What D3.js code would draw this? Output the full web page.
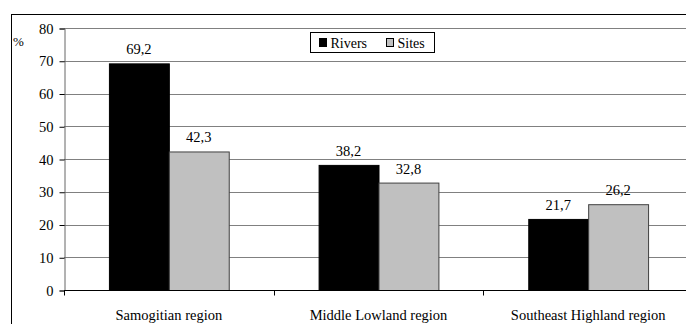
<!DOCTYPE html>
<html>
<head>
<meta charset="utf-8">
<script src="https://cdn.jsdelivr.net/npm/d3@7"></script>
<style>
  html, body { margin: 0; padding: 0; background: #fff; }
  svg { display: block; }
  svg text { font-family: "Liberation Serif", "Times New Roman", Tinos, serif !important; }
</style>
</head>
<body>
<svg id="fig" width="686" height="324"></svg>
<script>
// Share of rivers and sites per region (%)
const regions = ["Samogitian region", "Middle Lowland region", "Southeast Highland region"];
const seriesNames = ["Rivers", "Sites"];
const rivers = [69.2, 38.2, 21.7];
const sites = [42.3, 32.8, 26.2];
const yTicks = [0, 10, 20, 30, 40, 50, 60, 70, 80];
const seriesColors = ["#000000", "#c0c0c0"];

const FONT = "Liberation Serif";
const FS = "14.5px";

const seriesValues = [rivers, sites];
const rows = regions.map((r, i) => ({
  region: r,
  values: seriesNames.map((s, j) => ({ series: s, value: seriesValues[j][i] }))
}));

const svg = d3.select("#fig");

// outer chart frame (runs off the right and bottom edges)
svg.append("rect")
  .attr("x", 11.5).attr("y", 14.5)
  .attr("width", 700).attr("height", 330)
  .attr("fill", "none").attr("stroke", "#000").attr("stroke-width", 1);

const plot = { left: 64, right: 693, top: 28, bottom: 290 };

const x0 = d3.scaleBand().domain(regions).range([plot.left, plot.right]).padding(0);
const x1 = d3.scaleBand().domain(seriesNames).range([0, x0.bandwidth()])
  .paddingInner(0).paddingOuter(0.75);
const y = d3.scaleLinear().domain([0, 80]).range([plot.bottom, plot.top]);

// horizontal gridlines
svg.append("g").selectAll("line")
  .data(yTicks.filter(t => t > 0))
  .join("line")
  .attr("x1", plot.left).attr("x2", plot.right)
  .attr("y1", d => Math.round(y(d)) + 0.5).attr("y2", d => Math.round(y(d)) + 0.5)
  .attr("stroke", "#808080").attr("stroke-width", 1);

// y axis
const yAxis = svg.append("g")
  .attr("transform", `translate(${plot.left + 0.5},0.5)`)
  .call(d3.axisLeft(y).tickValues(yTicks).tickSize(5).tickPadding(6).tickFormat(d3.format("d")));
yAxis.attr("font-family", FONT).attr("font-size", FS);
yAxis.select(".domain").attr("stroke", "#666");
yAxis.selectAll(".tick line").attr("stroke", "#000");
yAxis.selectAll("text")
  .style("font-family", FONT)
  .style("font-size", FS)
  .attr("fill", "#000");

// bars
const groups = svg.append("g").selectAll("g")
  .data(rows)
  .join("g")
  .attr("transform", d => `translate(${x0(d.region)},0)`);

groups.selectAll("rect")
  .data(d => d.values)
  .join("rect")
  .attr("x", d => x1(d.series) + 0.5)
  .attr("y", d => y(d.value) + 0.5)
  .attr("width", x1.bandwidth())
  .attr("height", d => y(0) - y(d.value))
  .attr("fill", (d, i) => seriesColors[i])
  .attr("stroke", (d, i) => i === 0 ? "#000" : "#404040")
  .attr("stroke-width", 1);

// value labels
groups.selectAll("text.val")
  .data(d => d.values)
  .join("text")
  .attr("class", "val")
  .attr("x", d => x1(d.series) + x1.bandwidth() / 2)
  .attr("y", d => y(d.value) - 9)
  .attr("text-anchor", "middle")
  .style("font-family", FONT)
  .style("font-size", FS)
  .text(d => d3.format(".1f")(d.value).replace(".", ","));

// x axis
const xAxis = svg.append("g")
  .attr("transform", `translate(0,${plot.bottom + 0.5})`);
xAxis.append("line")
  .attr("x1", plot.left).attr("x2", plot.right)
  .attr("stroke", "#000");
xAxis.selectAll("line.tick")
  .data(regions)
  .join("line")
  .attr("class", "tick")
  .attr("x1", d => Math.round(x0(d)) + 0.5).attr("x2", d => Math.round(x0(d)) + 0.5)
  .attr("y1", 0).attr("y2", 5)
  .attr("stroke", "#000");
xAxis.selectAll("text")
  .data(regions)
  .join("text")
  .attr("x", d => x0(d) + x0.bandwidth() / 2)
  .attr("y", 29)
  .attr("text-anchor", "middle")
  .style("font-family", FONT)
  .style("font-size", FS)
  .text(d => d);

// unit label
svg.append("text")
  .attr("x", 13).attr("y", 46)
  .style("font-family", FONT)
  .style("font-size", "13px")
  .text("%");

// legend
const legend = svg.append("g").attr("transform", "translate(310.5,32.5)");
legend.append("rect")
  .attr("width", 124).attr("height", 20)
  .attr("fill", "#fff").attr("stroke", "#000");
const items = legend.selectAll("g.item")
  .data(seriesNames)
  .join("g")
  .attr("class", "item")
  .attr("transform", (d, i) => `translate(${i === 0 ? 9 : 76},0)`);
items.append("rect")
  .attr("x", 0).attr("y", 6)
  .attr("width", 7).attr("height", 8)
  .attr("fill", (d, i) => seriesColors[i])
  .attr("stroke", "#000");
items.append("text")
  .attr("x", 11).attr("y", 15)
  .style("font-family", FONT)
  .style("font-size", "14px")
  .text(d => d);
</script>
</body>
</html>
